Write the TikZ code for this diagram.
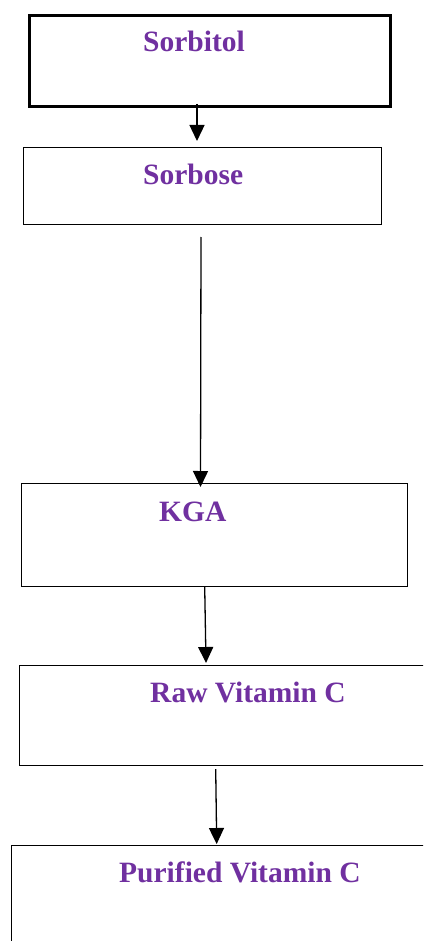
\documentclass[tikz,border=0pt]{standalone}
\usepackage{fontspec}
\setmainfont{Liberation Serif}
\usetikzlibrary{arrows.meta}
\definecolor{labelpurple}{HTML}{7030A0}
\tikzset{
  stagebox/.style={draw=black, line width=1.2pt, rectangle, inner sep=0pt, anchor=north west},
  heavybox/.style={stagebox, line width=3pt},
  stagelabel/.style={text=labelpurple, font=\fontsize{29.5}{34}\selectfont\bfseries, anchor=base west, inner sep=0pt},
  flow/.style={line width=1.3pt, -{Triangle[width=15pt,length=16pt]}}
}
\begin{document}
\begin{tikzpicture}[x=1pt,y=-1pt]
\useasboundingbox (0,0) rectangle (423,941);
\clip (0,0) rectangle (423,941);
\fill[white] (0,0) rectangle (423,941);

% process stages
\node[heavybox, minimum width=360.5pt, minimum height=91.3pt] (sorbitol) at (28,14) {};
\node[stagebox, minimum width=358pt, minimum height=77pt] (sorbose) at (23,147) {};
\node[stagebox, minimum width=386pt, minimum height=103pt] (kga) at (21,483) {};
\node[stagebox, minimum width=420pt, minimum height=100pt] (raw) at (19,665) {};
\node[stagebox, minimum width=430pt, minimum height=120pt] (pure) at (11,845) {};

% stage names
\node[stagelabel] (tsorbitol) at (143,52) {Sorbitol};
\node[stagelabel] (tsorbose) at (143,185) {Sorbose};
\node[stagelabel] (tkga) at (159,521) {KGA};
\node[stagelabel] (traw) at (150,702.5) {Raw Vitamin C};
\node[stagelabel] (tpure) at (119,882) {Purified Vitamin C};

% connector end points
\coordinate (s1) at (197,104);
\coordinate (e1) at (197,141);
\coordinate (s2) at (201,237);
\coordinate (e2) at (200.5,487);
\coordinate (s3) at (204.7,587);
\coordinate (e3) at (206,663);
\coordinate (s4) at (215.7,769);
\coordinate (e4) at (216.7,844);

\draw[flow] (s1) -- (e1);
\draw[flow] (s2) -- (e2);
\draw[flow] (s3) -- (e3);
\draw[flow] (s4) -- (e4);
\end{tikzpicture}
\end{document}
